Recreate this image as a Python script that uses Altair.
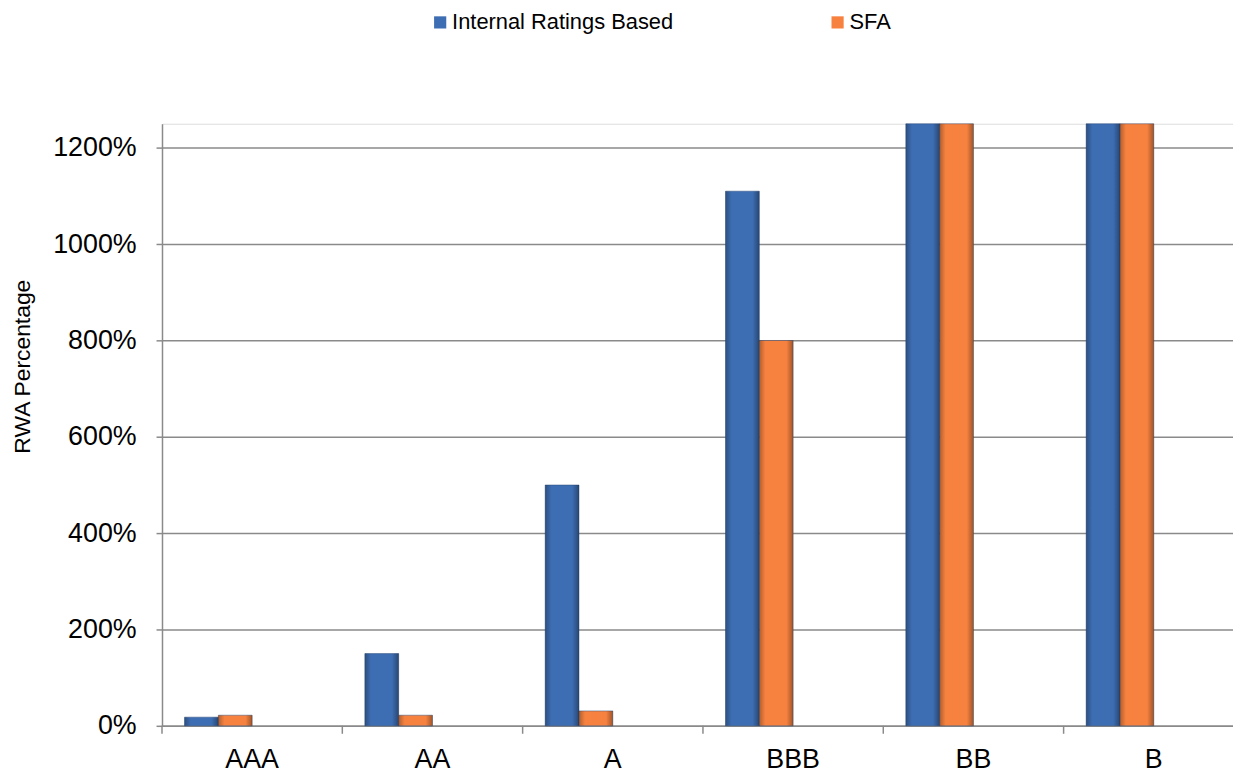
import altair as alt
import pandas as pd

categories = ["AAA", "AA", "A", "BBB", "BB", "B"]
series = ["Internal Ratings Based", "SFA"]
irb_values = [18, 150, 500, 1110, 1250, 1250]
sfa_values = [22, 22, 31, 800, 1250, 1250]
slot_names = series + ["slot 3", "slot 4"]
y_ticks = [0, 200, 400, 600, 800, 1000, 1200]
colors = ["#3d6db2", "#f7823f"]

rows = []
for cat, a, b in zip(categories, irb_values, sfa_values):
    rows.append({"rating": cat, "series": series[0], "value": a})
    rows.append({"rating": cat, "series": series[1], "value": b})
df = pd.DataFrame(rows)
cat_df = pd.DataFrame({"rating": categories})

FONT = "Liberation Sans"
GRID = "#8a8a8a"
RANGE_W = 1089
PAD_IN = 0.25
PAD_OUT = 0.125
STEP = RANGE_W / len(categories)

x_scale = alt.Scale(paddingInner=PAD_IN, paddingOuter=PAD_OUT, range=[0, RANGE_W])
x_axis = alt.Axis(
    title=None,
    ticks=False,
    labelAngle=0,
    labelFont=FONT,
    labelFontSize=27,
    labelColor="black",
    labelPadding=21,
    domainColor=GRID,
    domainWidth=1.5,
    grid=False,
)
x_enc = alt.X("rating:N", sort=categories, scale=x_scale, axis=x_axis)
xoff_enc = alt.XOffset(
    "series:N",
    scale=alt.Scale(domain=slot_names, paddingInner=0, paddingOuter=0),
)
y_enc = alt.Y(
    "value:Q",
    scale=alt.Scale(domain=[0, 1250], nice=False),
    axis=alt.Axis(
        title="RWA Percentage",
        values=y_ticks,
        labelExpr="datum.value + '%'",
        labelFont=FONT,
        labelFontSize=27,
        labelColor="black",
        labelPadding=20,
        tickSize=6,
        tickColor=GRID,
        tickWidth=1.5,
        domainColor=GRID,
        domainWidth=1.5,
        gridColor=GRID,
        gridWidth=1.5,
        titleFont=FONT,
        titleFontSize=23,
        titleFontWeight="normal",
        titleColor="black",
        titleX=-140,
        titleY=244,
        titleBaseline="middle",
        titleAlign="center",
        titleAngle=270,
    ),
)

bars = alt.Chart(df).mark_bar(stroke="#2b4a78", strokeWidth=0.8, strokeOpacity=0.6).encode(
    x=x_enc,
    xOffset=xoff_enc,
    y=y_enc,
    color=alt.Color(
        "series:N",
        scale=alt.Scale(domain=series, range=colors),
        legend=alt.Legend(
            title=None,
            orient="none",
            direction="horizontal",
            legendX=269,
            legendY=-113,
            padding=0,
            symbolType="square",
            symbolSize=150,
            symbolStrokeWidth=0,
            labelFont=FONT,
            labelFontSize=22,
            labelLimit=500,
            labelColor="black",
            labelOffset=1,
            columnPadding=154,
        ),
    ),
)

shade = alt.Chart(df).mark_bar(
    fill=alt.LinearGradient(
        gradient="linear",
        x1=0, x2=1, y1=0, y2=0,
        stops=[
            alt.GradientStop(color="rgba(0,0,0,0.28)", offset=0),
            alt.GradientStop(color="rgba(0,0,0,0)", offset=0.18),
            alt.GradientStop(color="rgba(0,0,0,0)", offset=0.8),
            alt.GradientStop(color="rgba(0,0,0,0.35)", offset=1),
        ],
    )
).encode(x=x_enc, xOffset=xoff_enc, y=y_enc)

# category boundary ticks: band start shifted back by half the inner padding
ticks = alt.Chart(cat_df).mark_rule(
    color=GRID, strokeWidth=1.5, xOffset=-STEP * PAD_IN / 2
).encode(
    x=alt.X("rating:N", sort=categories, scale=x_scale, axis=x_axis, bandPosition=0),
    y=alt.value(606),
    y2=alt.value(614),
)

chart = (
    alt.layer(bars, shade, ticks)
    .properties(
        width=1078,
        height=606,
        autosize=alt.AutoSizeParams(type="none"),
        padding={"left": 155, "top": 114, "right": 0, "bottom": 49},
    )
    .configure_view(stroke=None)
    .configure(background="white")
)

chart.save("out.html", embed_options={"renderer": "svg", "actions": False})
